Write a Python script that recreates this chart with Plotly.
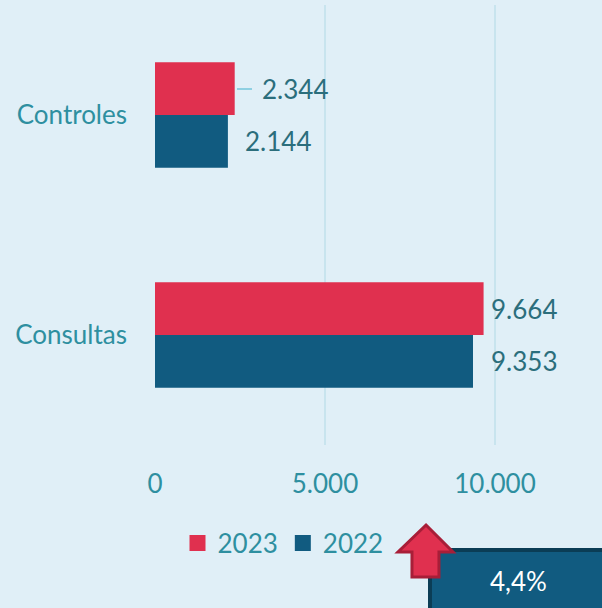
import plotly.graph_objects as go

categorias = ["Controles", "Consultas"]
valores_2023 = [2344, 9664]
valores_2022 = [2144, 9353]
etiquetas_2023 = ["2.344", "9.664"]
etiquetas_2022 = ["2.144", "9.353"]
tick_vals = [0, 5000, 10000]
tick_text = ["0", "5.000", "10.000"]
variacion = "4,4%"

ROJO = "#e0304f"
AZUL = "#115b80"
FONDO = "#e0eff7"
TEXTO = "#2b6e7c"
EJE = "#2e8fa0"
FS = 26

# plot area in pixels (used to place the shapes in paper units)
L, R, T, B = 155, 602, 5, 445


def px(x):
    return (x - L) / (R - L)


def py(y):
    return (B - y) / (B - T)


fig = go.Figure()
fig.add_trace(go.Bar(y=categorias, x=valores_2023, name="2023", orientation="h",
                     marker=dict(color=ROJO, line=dict(width=0)), showlegend=False))
fig.add_trace(go.Bar(y=categorias, x=valores_2022, name="2022", orientation="h",
                     marker=dict(color=AZUL, line=dict(width=0)), showlegend=False))
# legend entries with bigger squares
for nombre, color in [("2023", ROJO), ("2022", AZUL)]:
    fig.add_trace(go.Scatter(x=[None], y=[None], mode="markers", name=nombre,
                             marker=dict(symbol="square", size=16, color=color)))

# data labels, placed by hand like the original
shift_2023 = [25, 5]
shift_2022 = [15, 16]
for i, c in enumerate(categorias):
    fig.add_annotation(x=valores_2023[i], y=c, text=etiquetas_2023[i], showarrow=False,
                       xanchor="left", xshift=shift_2023[i], yshift=26,
                       font=dict(size=FS, color=TEXTO))
    fig.add_annotation(x=valores_2022[i], y=c, text=etiquetas_2022[i], showarrow=False,
                       xanchor="left", xshift=shift_2022[i], yshift=-26,
                       font=dict(size=FS, color=TEXTO))

# leader line of the 2.344 label
fig.add_shape(type="line", xref="paper", yref="paper",
              x0=px(237), x1=px(252), y0=py(89), y1=py(89),
              line=dict(color="#8fd0e2", width=2))

# box with the variation
fig.add_shape(type="rect", xref="paper", yref="paper",
              x0=px(430), x1=px(615), y0=py(550), y1=py(615),
              fillcolor=AZUL, line=dict(color="#0b3d55", width=4), layer="above")
fig.add_annotation(xref="paper", yref="paper", x=px(518), y=py(581), text=variacion,
                   showarrow=False, xanchor="center", yanchor="middle",
                   font=dict(size=FS, color="white"))

# up arrow
pts = [(426, 525), (453, 552), (439, 552), (439, 577), (412, 577), (412, 552), (398, 552)]
path = "M " + " L ".join(f"{px(x):.4f},{py(y):.4f}" for x, y in pts) + " Z"
fig.add_shape(type="path", xref="paper", yref="paper", path=path,
              fillcolor=ROJO, line=dict(color="#a81e38", width=3), layer="above")

fig.update_layout(
    width=602, height=608,
    paper_bgcolor=FONDO, plot_bgcolor=FONDO,
    margin=dict(l=L, r=602 - R, t=T, b=608 - B),
    font=dict(family="Lato, Open Sans, sans-serif", size=FS, color=EJE),
    barmode="group", bargap=0.52, bargroupgap=0,
    showlegend=True,
    legend=dict(orientation="h", x=px(283), xanchor="center", y=py(543), yanchor="middle",
                font=dict(size=FS, color=EJE), itemwidth=30, bgcolor="rgba(0,0,0,0)"),
)
fig.update_xaxes(range=[0, 13147], tickvals=tick_vals, ticktext=tick_text,
                 showgrid=True, gridcolor="#c8e4ee", gridwidth=2, zeroline=False,
                 showline=False, ticks="", ticklabelstandoff=21,
                 tickfont=dict(size=FS, color=EJE), fixedrange=True)
fig.update_yaxes(autorange="reversed", showgrid=False, showline=False, ticks="",
                 ticklabelstandoff=27, tickfont=dict(size=FS, color=EJE))

fig.write_html("out.html", config={"displayModeBar": False},
               post_script="document.body.style.margin='0';")
